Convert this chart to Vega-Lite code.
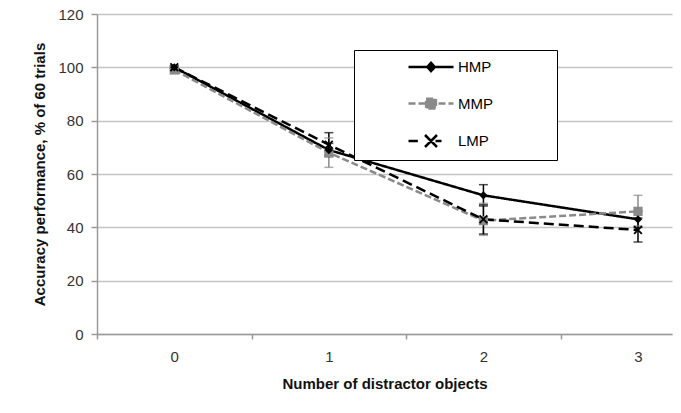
{
  "$schema": "https://vega.github.io/schema/vega-lite/v6.json",
  "width": 575,
  "height": 320,
  "autosize": {"type": "none"},
  "padding": {"left": 97, "top": 14, "right": 9, "bottom": 79},
  "background": "white",
  "config": {
    "view": {"stroke": null},
    "font": "Liberation Sans",
    "axis": {
      "labelFont": "Liberation Sans",
      "labelFontSize": 15,
      "labelColor": "#333333",
      "titleFont": "Liberation Sans",
      "titleFontSize": 15,
      "titleFontWeight": "bold",
      "titleColor": "#111111",
      "domainColor": "#9a9a9a",
      "domainWidth": 1.5,
      "tickColor": "#9a9a9a",
      "tickWidth": 1.5,
      "gridColor": "#c4c4c4",
      "gridWidth": 1.5
    }
  },
  "data": {
    "values": [
      {"group": "HMP", "x": 0, "y": 100, "lo": 99.5, "hi": 100.5},
      {"group": "HMP", "x": 1, "y": 69, "lo": 66.5, "hi": 71.5},
      {"group": "HMP", "x": 2, "y": 52, "lo": 48.5, "hi": 56},
      {"group": "HMP", "x": 3, "y": 43, "lo": 40, "hi": 46},
      {"group": "MMP", "x": 0, "y": 99, "lo": 98.5, "hi": 99.5},
      {"group": "MMP", "x": 1, "y": 68, "lo": 62.5, "hi": 73.5},
      {"group": "MMP", "x": 2, "y": 42.5, "lo": 37, "hi": 49},
      {"group": "MMP", "x": 3, "y": 46, "lo": 40.5, "hi": 52},
      {"group": "LMP", "x": 0, "y": 100, "lo": 99.5, "hi": 100.5},
      {"group": "LMP", "x": 1, "y": 71, "lo": 67, "hi": 75.5},
      {"group": "LMP", "x": 2, "y": 43, "lo": 37.5, "hi": 48},
      {"group": "LMP", "x": 3, "y": 39, "lo": 34.5, "hi": 43.5}
    ]
  },
  "encoding": {
    "x": {
      "field": "x",
      "type": "quantitative",
      "scale": {"domain": [-0.5, 3.22], "nice": false, "zero": false},
      "axis": {
        "title": "Number of distractor objects",
        "values": [-0.5, 0, 0.5, 1, 1.5, 2, 2.5, 3],
        "labelExpr": "datum.value % 1 === 0 ? '' + datum.value : ''",
        "labelOverlap": false,
        "labelFlush": false,
        "tickSize": 5,
        "tickOpacity": {"condition": {"test": "datum.value % 1 === 0", "value": 0}, "value": 1},
        "labelPadding": 10,
        "titlePadding": 12,
        "grid": false
      }
    },
    "color": {
      "field": "group",
      "type": "nominal",
      "scale": {"domain": ["HMP", "MMP", "LMP"], "range": ["#000000", "#8a8a8a", "#000000"]},
      "legend": {
        "orient": "none", "legendX": 257, "legendY": 36, "title": null,
        "strokeColor": "#000000", "fillColor": "#ffffff",
        "padding": 8, "rowPadding": 16.5,
        "symbolSize": 225, "symbolStrokeWidth": 2.5, "symbolOpacity": 1,
        "symbolOffset": 60, "labelOffset": 18,
        "labelFont": "Liberation Sans", "labelFontSize": 15, "labelColor": "#000000"
      }
    }
  },
  "layer": [
    {
      "mark": {"type": "rule", "strokeWidth": 1.5},
      "encoding": {
        "y": {
          "field": "lo",
          "type": "quantitative",
          "scale": {"domain": [0, 120], "nice": false},
          "axis": {"title": "Accuracy performance, % of 60 trials", "values": [0, 20, 40, 60, 80, 100, 120], "tickSize": 6, "labelPadding": 8, "titlePadding": 10, "grid": true}
        },
        "y2": {"field": "hi"}
      }
    },
    {
      "mark": {"type": "tick", "orient": "horizontal", "size": 9, "thickness": 1.5},
      "encoding": {
        "y": {
          "field": "lo",
          "type": "quantitative",
          "axis": {"title": "Accuracy performance, % of 60 trials", "values": [0, 20, 40, 60, 80, 100, 120], "tickSize": 6, "labelPadding": 8, "titlePadding": 10, "grid": true}
        }
      }
    },
    {
      "mark": {"type": "tick", "orient": "horizontal", "size": 9, "thickness": 1.5},
      "encoding": {
        "y": {
          "field": "hi",
          "type": "quantitative",
          "axis": {"title": "Accuracy performance, % of 60 trials", "values": [0, 20, 40, 60, 80, 100, 120], "tickSize": 6, "labelPadding": 8, "titlePadding": 10, "grid": true}
        }
      }
    },
    {
      "mark": {"type": "line", "strokeWidth": 2.5},
      "encoding": {
        "y": {
          "field": "y",
          "type": "quantitative",
          "axis": {"title": "Accuracy performance, % of 60 trials", "values": [0, 20, 40, 60, 80, 100, 120], "tickSize": 6, "labelPadding": 8, "titlePadding": 10, "grid": true}
        },
        "strokeDash": {
          "field": "group",
          "type": "nominal",
          "scale": {"domain": ["HMP", "MMP", "LMP"], "range": [[1, 0], [7, 3], [10, 5]]},
          "legend": null
        },
        "order": {"field": "x", "type": "quantitative"}
      }
    },
    {
      "mark": {"type": "point", "filled": true, "opacity": 0},
      "encoding": {
        "y": {
          "field": "y",
          "type": "quantitative",
          "axis": {"title": "Accuracy performance, % of 60 trials", "values": [0, 20, 40, 60, 80, 100, 120], "tickSize": 6, "labelPadding": 8, "titlePadding": 10, "grid": true}
        },
        "shape": {
          "field": "group",
          "type": "nominal",
          "scale": {"domain": ["HMP", "MMP", "LMP"], "range": ["M-3,0H3M0,-0.55L0.5,0L0,0.55L-0.5,0ZM15,0", "M-3,0H3M-0.65,-0.65H0.65V0.65H-0.65ZM15,0", "M-3,0H-1.75M0,0L-0.8,-0.8M0,0L-0.8,0.8M0,0L0.8,-0.8M0,0L0.8,0.8M0.6,0H1.4M15,0"]},
          "legend": null
        }
      }
    },
    {
      "transform": [{"filter": "datum.group === 'MMP'"}],
      "mark": {"type": "point", "shape": "square", "filled": true, "strokeWidth": 1, "size": 85, "opacity": 1},
      "encoding": {
        "y": {
          "field": "y",
          "type": "quantitative",
          "axis": {"title": "Accuracy performance, % of 60 trials", "values": [0, 20, 40, 60, 80, 100, 120], "tickSize": 6, "labelPadding": 8, "titlePadding": 10, "grid": true}
        }
      }
    },
    {
      "transform": [{"filter": "datum.group === 'HMP'"}],
      "mark": {"type": "point", "shape": "diamond", "filled": true, "strokeWidth": 1, "size": 70, "opacity": 1},
      "encoding": {
        "y": {
          "field": "y",
          "type": "quantitative",
          "axis": {"title": "Accuracy performance, % of 60 trials", "values": [0, 20, 40, 60, 80, 100, 120], "tickSize": 6, "labelPadding": 8, "titlePadding": 10, "grid": true}
        }
      }
    },
    {
      "transform": [{"filter": "datum.group === 'LMP'"}],
      "mark": {"type": "point", "shape": "M-1,-1L1,1M-1,1L1,-1", "filled": false, "strokeWidth": 1.8, "size": 60, "opacity": 1},
      "encoding": {
        "y": {
          "field": "y",
          "type": "quantitative",
          "axis": {"title": "Accuracy performance, % of 60 trials", "values": [0, 20, 40, 60, 80, 100, 120], "tickSize": 6, "labelPadding": 8, "titlePadding": 10, "grid": true}
        }
      }
    }
  ]
}
